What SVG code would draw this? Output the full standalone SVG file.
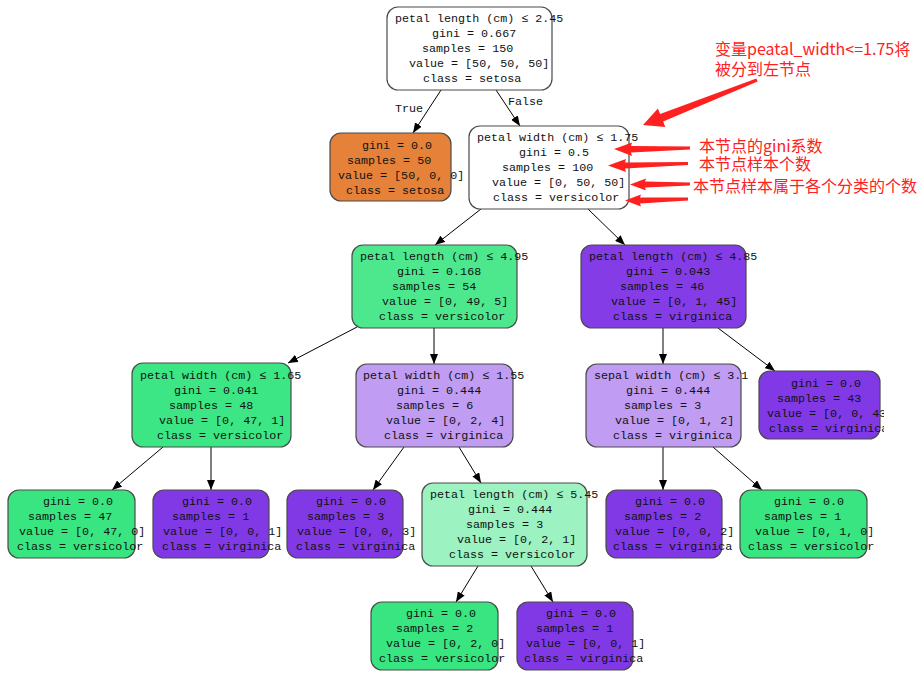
<svg xmlns="http://www.w3.org/2000/svg" width="924" height="693" viewBox="0 0 924 693">
<style>
.n rect{stroke:#4a4a4a;stroke-width:1.2}
.n text,.lbl{font-family:"Liberation Mono","DejaVu Sans Mono",monospace;font-size:11.7px;fill:#111}
.e path{fill:none;stroke:#000;stroke-width:1}
.ann{font-family:"Noto Sans CJK SC","Noto Sans",sans-serif;font-size:16px;fill:#ff2020}
.ra{fill:#ff2020}
</style>
<defs>
<marker id="ah" markerUnits="userSpaceOnUse" markerWidth="10" markerHeight="8" viewBox="0 0 10 8" refX="10" refY="4" orient="auto">
<path d="M0,0 L10,4 L0,8 z" fill="#000"/>
</marker>
<clipPath id="clip"><rect x="0" y="0" width="884" height="693"/></clipPath>
</defs>
<rect width="924" height="693" fill="#fff"/>
<g clip-path="url(#clip)">
<g class="e" id="connectors">
<path d="M441,90 L413,133" marker-end="url(#ah)"/>
<path d="M496,90 L520,126" marker-end="url(#ah)"/>
<path d="M481,209 L435,245" marker-end="url(#ah)"/>
<path d="M588,209 L625,245" marker-end="url(#ah)"/>
<path d="M357,327 L288,363" marker-end="url(#ah)"/>
<path d="M434,328 L434,364" marker-end="url(#ah)"/>
<path d="M663,328 L663,364" marker-end="url(#ah)"/>
<path d="M718,328 L775,371" marker-end="url(#ah)"/>
<path d="M163,447 L112,490" marker-end="url(#ah)"/>
<path d="M211,447 L211,490" marker-end="url(#ah)"/>
<path d="M404,447 L373,490" marker-end="url(#ah)"/>
<path d="M459,447 L481,483" marker-end="url(#ah)"/>
<path d="M663,447 L663,490" marker-end="url(#ah)"/>
<path d="M713,447 L762,490" marker-end="url(#ah)"/>
<path d="M478,566 L456,602" marker-end="url(#ah)"/>
<path d="M531,566 L553,602" marker-end="url(#ah)"/>
<text class="lbl" x="395" y="112">True</text>
<text class="lbl" x="508" y="104.5">False</text>
</g>
<g class="n" id="node0">
<rect x="387" y="7" width="165" height="83" rx="11" fill="#ffffff"/>
<text x="395" y="21.5">petal length (cm) ≤ 2.45</text>
<text x="432" y="36.5">gini = 0.667</text>
<text x="422" y="51.5">samples = 150</text>
<text x="409" y="66.5">value = [50, 50, 50]</text>
<text x="423" y="81.5">class = setosa</text>
</g>
<g class="n" id="node1">
<rect x="330" y="133" width="121" height="68" rx="11" fill="#e58139"/>
<text x="362" y="148.5">gini = 0.0</text>
<text x="347" y="163.5">samples = 50</text>
<text x="338" y="178.5">value = [50, 0, 0]</text>
<text x="346" y="193.5">class = setosa</text>
</g>
<g class="n" id="node2">
<rect x="469" y="126" width="160" height="83" rx="11" fill="#ffffff"/>
<text x="477" y="141">petal width (cm) ≤ 1.75</text>
<text x="519" y="156">gini = 0.5</text>
<text x="502" y="171">samples = 100</text>
<text x="492" y="186">value = [0, 50, 50]</text>
<text x="493" y="201">class = versicolor</text>
</g>
<g class="n" id="node3">
<rect x="352" y="245" width="165" height="83" rx="11" fill="#4de88e"/>
<text x="360" y="260">petal length (cm) ≤ 4.95</text>
<text x="397" y="275">gini = 0.168</text>
<text x="392" y="290">samples = 54</text>
<text x="382" y="305">value = [0, 49, 5]</text>
<text x="379" y="320">class = versicolor</text>
</g>
<g class="n" id="node4">
<rect x="581" y="245" width="165" height="83" rx="11" fill="#843de6"/>
<text x="589" y="260">petal length (cm) ≤ 4.85</text>
<text x="626" y="275">gini = 0.043</text>
<text x="620" y="290">samples = 46</text>
<text x="611" y="305">value = [0, 1, 45]</text>
<text x="613" y="320">class = virginica</text>
</g>
<g class="n" id="node5">
<rect x="132" y="363" width="159" height="84" rx="11" fill="#3de684"/>
<text x="140" y="379">petal width (cm) ≤ 1.65</text>
<text x="174" y="394">gini = 0.041</text>
<text x="169" y="409">samples = 48</text>
<text x="159" y="424">value = [0, 47, 1]</text>
<text x="157" y="439">class = versicolor</text>
</g>
<g class="n" id="node6">
<rect x="356" y="364" width="157" height="83" rx="11" fill="#c09cf2"/>
<text x="363" y="379">petal width (cm) ≤ 1.55</text>
<text x="397" y="394">gini = 0.444</text>
<text x="396" y="409">samples = 6</text>
<text x="386" y="424">value = [0, 2, 4]</text>
<text x="384" y="439">class = virginica</text>
</g>
<g class="n" id="node7">
<rect x="586" y="364" width="155" height="83" rx="11" fill="#c09cf2"/>
<text x="594" y="379">sepal width (cm) ≤ 3.1</text>
<text x="626" y="394">gini = 0.444</text>
<text x="624" y="409">samples = 3</text>
<text x="615" y="424">value = [0, 1, 2]</text>
<text x="613" y="439">class = virginica</text>
</g>
<g class="n" id="node8">
<rect x="759" y="371" width="121" height="68" rx="11" fill="#8139e5"/>
<text x="791" y="386.5">gini = 0.0</text>
<text x="777" y="401.5">samples = 43</text>
<text x="767" y="416.5">value = [0, 0, 43]</text>
<text x="769" y="431.5">class = virginica</text>
</g>
<g class="n" id="node9">
<rect x="8" y="490" width="127" height="68" rx="11" fill="#39e581"/>
<text x="43" y="505">gini = 0.0</text>
<text x="28" y="520">samples = 47</text>
<text x="19" y="535">value = [0, 47, 0]</text>
<text x="17" y="550">class = versicolor</text>
</g>
<g class="n" id="node10">
<rect x="153" y="490" width="116" height="68" rx="11" fill="#8139e5"/>
<text x="182" y="505">gini = 0.0</text>
<text x="172" y="520">samples = 1</text>
<text x="163" y="535">value = [0, 0, 1]</text>
<text x="162" y="550">class = virginica</text>
</g>
<g class="n" id="node11">
<rect x="287" y="490" width="116" height="68" rx="11" fill="#8139e5"/>
<text x="316" y="505">gini = 0.0</text>
<text x="307" y="520">samples = 3</text>
<text x="297" y="535">value = [0, 0, 3]</text>
<text x="296" y="550">class = virginica</text>
</g>
<g class="n" id="node12">
<rect x="422" y="483" width="165" height="83" rx="11" fill="#9cf2c0"/>
<text x="430" y="497.5">petal length (cm) ≤ 5.45</text>
<text x="468" y="512.5">gini = 0.444</text>
<text x="466" y="527.5">samples = 3</text>
<text x="457" y="542.5">value = [0, 2, 1]</text>
<text x="449" y="557.5">class = versicolor</text>
</g>
<g class="n" id="node13">
<rect x="606" y="490" width="116" height="68" rx="11" fill="#8139e5"/>
<text x="635" y="505">gini = 0.0</text>
<text x="624" y="520">samples = 2</text>
<text x="615" y="535">value = [0, 0, 2]</text>
<text x="613" y="550">class = virginica</text>
</g>
<g class="n" id="node14">
<rect x="740" y="490" width="127" height="68" rx="11" fill="#39e581"/>
<text x="774" y="505">gini = 0.0</text>
<text x="764" y="520">samples = 1</text>
<text x="755" y="535">value = [0, 1, 0]</text>
<text x="748" y="550">class = versicolor</text>
</g>
<g class="n" id="node15">
<rect x="371" y="602" width="127" height="68" rx="11" fill="#39e581"/>
<text x="406" y="616.5">gini = 0.0</text>
<text x="396" y="631.5">samples = 2</text>
<text x="386" y="646.5">value = [0, 2, 0]</text>
<text x="379" y="661.5">class = versicolor</text>
</g>
<g class="n" id="node16">
<rect x="517" y="602" width="116" height="68" rx="11" fill="#8139e5"/>
<text x="546" y="616.5">gini = 0.0</text>
<text x="536" y="631.5">samples = 1</text>
<text x="526" y="646.5">value = [0, 0, 1]</text>
<text x="524" y="661.5">class = virginica</text>
</g>
</g>
<g id="annotations">
<polygon class="ra" points="643,125 657.9,108.4 660.1,114.0 756.4,78.6 757.6,81.4 663.1,121.4 665.3,127.0"/>
<polygon class="ra" points="614,149 632,142.5 631,146 690,146.5 690,149.5 631,152.5 632,156"/>
<polygon class="ra" points="608,165.5 626,159 625,162.5 688,162 688,165 625,168.5 626,172"/>
<polygon class="ra" points="630,184.5 646,178.5 645,181.5 690,182.5 690,185.5 645,187.5 646,190.5"/>
<polygon class="ra" points="625,200.5 641,194.5 640,197.5 688,197.5 688,200.5 640,203.5 641,206.5"/>
<text class="ann" x="715" y="55">变量peatal_width&lt;=1.75将</text>
<text class="ann" x="715" y="74.5">被分到左节点</text>
<text class="ann" x="699" y="152">本节点的gini系数</text>
<text class="ann" x="699" y="170">本节点样本个数</text>
<text class="ann" x="693" y="192">本节点样本属于各个分类的个数</text>
</g>
</svg>
